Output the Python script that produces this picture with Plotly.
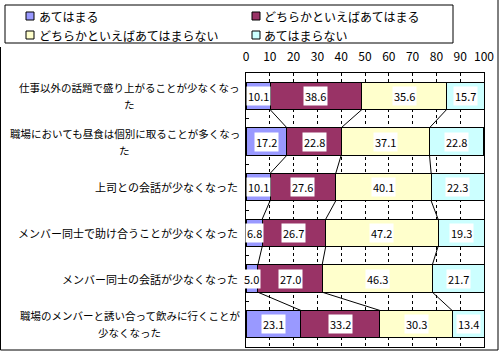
import plotly.graph_objects as go

categories = [
    "仕事以外の話題で盛り上がることが少なくなっ\nた",
    "職場においても昼食は個別に取ることが多くなっ\nた",
    "上司との会話が少なくなった",
    "メンバー同士で助け合うことが少なくなった",
    "メンバー同士の会話が少なくなった",
    "職場のメンバーと誘い合って飲みに行くことが\n少なくなった",
]
series_names = ["あてはまる", "どちらかといえばあてはまる", "どちらかといえばあてはまらない", "あてはまらない"]
v_atehamaru = [10.1, 17.2, 10.1, 6.8, 5.0, 23.1]
v_dochiraka_ate = [38.6, 22.8, 27.6, 26.7, 27.0, 33.2]
v_dochiraka_not = [35.6, 37.1, 40.1, 47.2, 46.3, 30.3]
v_atehamaranai = [15.7, 22.8, 22.3, 19.3, 21.7, 13.4]
tick_values = [0, 10, 20, 30, 40, 50, 60, 70, 80, 90, 100]

series_values = [v_atehamaru, v_dochiraka_ate, v_dochiraka_not, v_atehamaranai]
colors = ["#9999FF", "#993366", "#FFFFCC", "#CCFFFF"]

W, H = 500, 352
L, R, T, B = 246, 16, 73, 5
PW, PH = W - L - R, H - T - B


def px(x):
    return (x - L) / PW


def py(y):
    return (H - B - y) / PH


FONT = "Noto Sans CJK JP, Liberation Sans, sans-serif"
BW = 0.6
ypos = list(range(len(categories)))

fig = go.Figure()
for name, vals, col in zip(series_names, series_values, colors):
    fig.add_trace(go.Bar(
        y=ypos, x=vals, orientation="h", name=name, width=BW,
        marker=dict(color=col, line=dict(color="black", width=1)),
        showlegend=False, hoverinfo="x+name",
    ))

# cumulative boundaries
cums = []
for i in range(len(categories)):
    c, row = 0.0, []
    for s in series_values:
        c += s[i]
        row.append(c)
    cums.append(row)

# series lines
lx, ly = [], []
for k in range(3):
    for i in range(len(categories) - 1):
        lx += [cums[i][k], cums[i + 1][k], None]
        ly += [i + BW / 2, i + 1 - BW / 2, None]
fig.add_trace(go.Scatter(x=lx, y=ly, mode="lines", line=dict(color="black", width=1),
                         showlegend=False, hoverinfo="skip"))

annotations = []
# data labels
for i in range(len(categories)):
    start = 0.0
    for s in series_values:
        v = s[i]
        annotations.append(dict(
            x=start + v / 2, y=i, xref="x", yref="y", text=f"{v:.1f}", showarrow=False,
            font=dict(family=FONT, size=11, color="black"), bgcolor="white", borderpad=1,
        ))
        start += v

# category labels (each line separately, centred under the widest line)
CAT_SIZE = 10.5
LINE_H = 17
for i, c in enumerate(categories):
    lines = c.split("\n")
    n = len(lines)
    widest = max(len(s) for s in lines) * CAT_SIZE
    for j, line in enumerate(lines):
        shift = ((n - 1) / 2 - j) * LINE_H
        if n == 1:
            annotations.append(dict(
                x=px(240), y=i, xref="paper", yref="y", text=line, showarrow=False,
                xanchor="right", yanchor="middle",
                font=dict(family=FONT, size=11, color="black")))
        else:
            annotations.append(dict(
                x=px(240 - widest / 2), y=i, xref="paper", yref="y", text=line, showarrow=False,
                xanchor="center", yanchor="middle", yshift=shift,
                font=dict(family=FONT, size=CAT_SIZE, color="black")))

# legend (custom)
shapes = [
    dict(type="rect", xref="paper", yref="paper", x0=px(5), x1=px(453), y0=py(5), y1=py(43),
         line=dict(color="black", width=1), fillcolor="white", layer="below"),
]
leg_pos = [(26, 12, 37), (252, 12, 262), (26, 31, 37), (252, 31, 262)]
for (sx, sy, tx), name, col in zip(leg_pos, series_names, colors):
    shapes.append(dict(type="rect", xref="paper", yref="paper", x0=px(sx), x1=px(sx + 8),
                       y0=py(sy), y1=py(sy + 8), line=dict(color="black", width=1), fillcolor=col))
    annotations.append(dict(x=px(tx), y=py(sy + 4), xref="paper", yref="paper", text=name,
                            showarrow=False, xanchor="left", yanchor="middle",
                            font=dict(family=FONT, size=12, color="black")))

# outer border
for x0, y0, x1, y1 in [(0.5, 47, 0.5, 350), (0.5, 350, 498, 350), (498, 0, 498, 350)]:
    shapes.append(dict(type="line", xref="paper", yref="paper", x0=px(x0), y0=py(y0),
                       x1=px(x1), y1=py(y1), line=dict(color="black", width=1)))

fig.update_layout(
    width=W, height=H, margin=dict(l=L, r=R, t=T, b=B),
    paper_bgcolor="white", plot_bgcolor="white",
    barmode="stack", bargap=0.4,
    font=dict(family=FONT, size=12, color="black"),
    xaxis=dict(side="top", range=[0, 100], tickmode="array", tickvals=tick_values,
               ticktext=[str(t) for t in tick_values],
               showgrid=True, gridcolor="black", griddash="3px,3px", gridwidth=1,
               showline=True, mirror=True, linecolor="black", linewidth=1,
               zeroline=False, ticks="", ticklabelstandoff=6,
               tickfont=dict(family=FONT, size=12, color="black"), fixedrange=True),
    yaxis=dict(range=[len(categories) - 0.5, -0.5], tickmode="array",
               tickvals=[i + 0.5 for i in range(len(categories) - 1)],
               showticklabels=False, ticks="inside", ticklen=3, tickcolor="black",
               showgrid=False, zeroline=False, showline=True, mirror=True,
               linecolor="black", linewidth=1, fixedrange=True),
    annotations=annotations, shapes=shapes,
)

fig.write_html("out.html", include_plotlyjs=True, config={"displayModeBar": False})
